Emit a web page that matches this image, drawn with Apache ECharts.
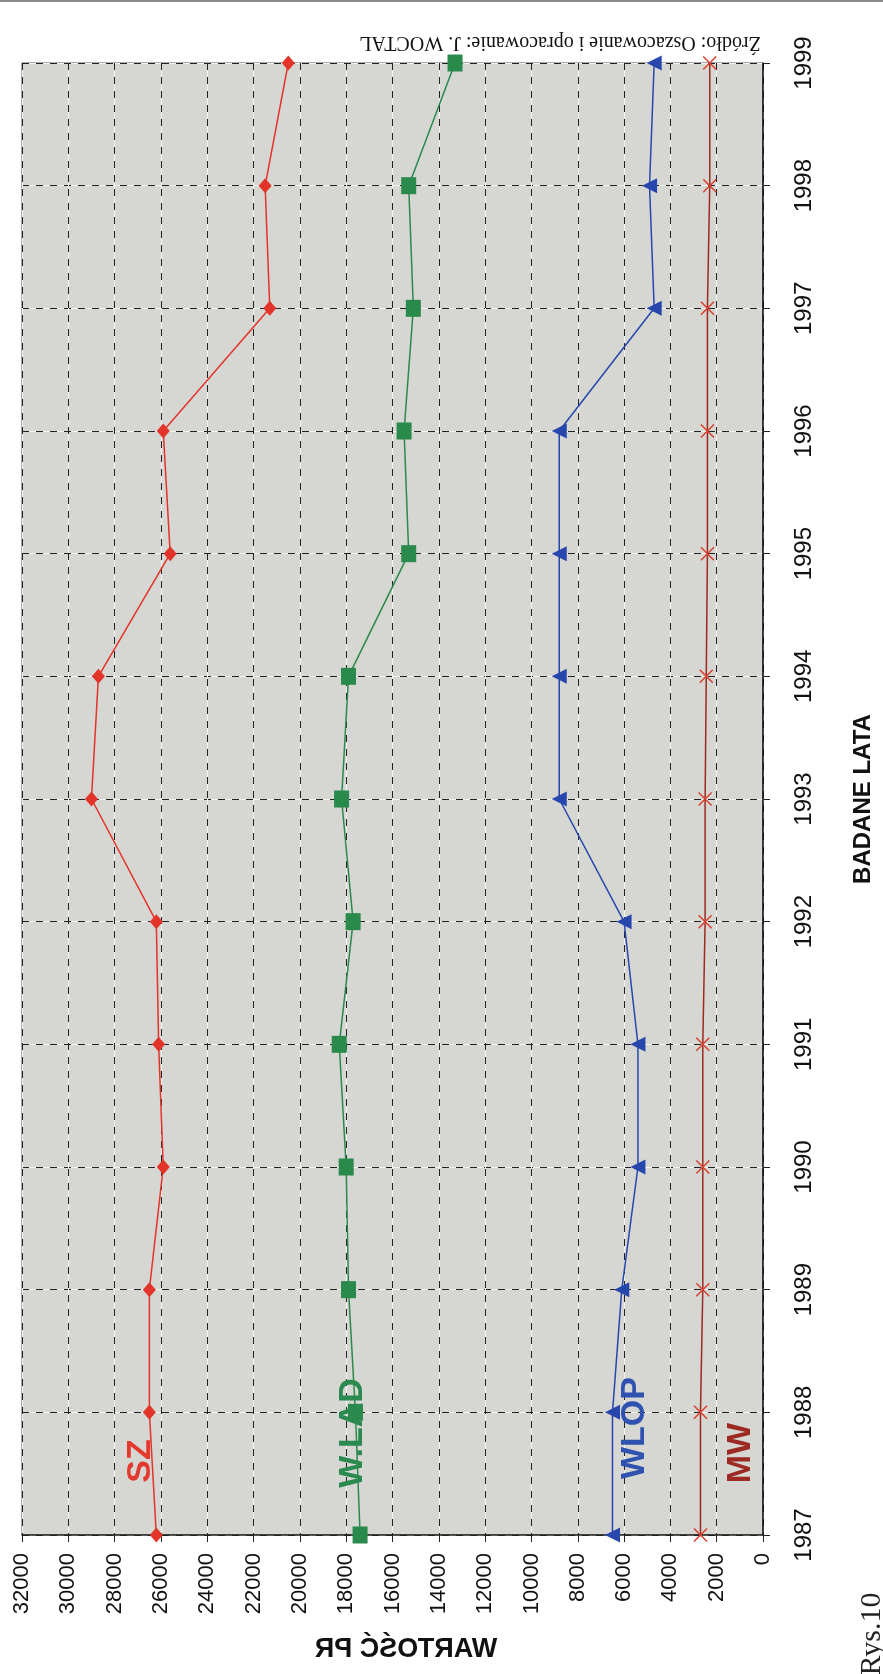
<!DOCTYPE html>
<html>
<head>
<meta charset="utf-8">
<script src="https://cdn.jsdelivr.net/npm/echarts@6/dist/echarts.min.js"></script>
<style>
  html, body { margin: 0; padding: 0; background: #ffffff; }
  #chart { width: 883px; height: 1674px; }
</style>
</head>
<body>
<div id="chart"></div>
<script>
// Years on the category axis (drawn vertically, 1987 at the bottom)
const years = ['1987', '1988', '1989', '1990', '1991', '1992', '1993', '1994', '1995', '1996', '1997', '1998', '1999'];

// Series values (WARTOŚĆ PR)
const sz    = [26200, 26500, 26500, 25900, 26100, 26200, 29000, 28700, 25600, 25900, 21300, 21500, 20500];
const wlad  = [17400, 17600, 17900, 18000, 18300, 17700, 18200, 17900, 15300, 15500, 15100, 15300, 13300];
const wlop  = [6500, 6500, 6100, 5400, 5400, 6000, 8800, 8800, 8800, 8800, 4700, 4900, 4700];
const mw    = [2700, 2700, 2600, 2600, 2600, 2500, 2500, 2450, 2400, 2400, 2400, 2300, 2300];

// Value axis range
const valueMin = 0;
const valueMax = 32000;
const valueStep = 2000;

const chart = echarts.init(document.getElementById('chart'), null, { renderer: 'canvas' });

const gridBox = { left: 22, right: 105, top: 63, bottom: 139 };

function lineSeries(name, data, color, symbol, size, extra) {
  return Object.assign({
    name: name,
    type: 'line',
    data: data,
    xAxisIndex: 0,
    yAxisIndex: 0,
    symbol: symbol,
    symbolSize: size,
    showAllSymbol: true,
    lineStyle: { color: color, width: 1.5 },
    itemStyle: { color: color },
    emphasis: { disabled: true },
    z: 5
  }, extra || {});
}

const seriesLabel = (text, x, y, color) => ({
  type: 'text',
  x: x, y: y,
  rotation: Math.PI / 2,
  z: 20,
  style: {
    text: text,
    fill: color,
    font: 'bold 34px "Liberation Sans", Arial, sans-serif',
    textAlign: 'center',
    textVerticalAlign: 'middle'
  }
});

const option = {
  animation: false,
  backgroundColor: '#ffffff',
  grid: Object.assign({
    show: true,
    backgroundColor: '#d6d6d2',
    borderColor: '#555555',
    borderWidth: 1
  }, gridBox),
  xAxis: [
    {
      type: 'value',
      min: valueMin,
      max: valueMax,
      interval: valueStep,
      inverse: true,
      position: 'bottom',
      axisLine: { show: true, onZero: false, lineStyle: { color: '#222', width: 1.5 } },
      axisTick: { show: true, length: 7, lineStyle: { color: '#222' } },
      axisLabel: {
        rotate: 90,
        margin: 18,
        fontSize: 22,
        color: '#111',
        fontFamily: '"Liberation Sans", Arial, sans-serif',
        formatter: v => String(v)
      },
      splitLine: { show: true, lineStyle: { color: '#222', width: 1, type: [7, 7] } }
    },
    {
      // white dashes filling the gaps of the vertical grid lines
      type: 'value',
      min: valueMin,
      max: valueMax,
      interval: valueStep,
      inverse: true,
      position: 'bottom',
      axisLine: { show: false },
      axisTick: { show: false },
      axisLabel: { show: false },
      splitLine: { show: true, lineStyle: { color: '#f4f4f2', width: 1, type: [7, 7], dashOffset: 7 } }
    }
  ],
  yAxis: [
    {
      type: 'category',
      data: years,
      boundaryGap: false,
      position: 'right',
      axisLine: { show: true, lineStyle: { color: '#111', width: 1.5 } },
      axisTick: { show: true, length: 7, alignWithLabel: true, lineStyle: { color: '#222' } },
      axisLabel: {
        rotate: 90,
        margin: 29,
        fontSize: 24,
        color: '#111',
        fontFamily: '"Liberation Sans", Arial, sans-serif'
      },
      splitLine: { show: true, lineStyle: { color: '#222', width: 1, type: [7, 7] } },
      name: 'BADANE LATA',
      nameLocation: 'middle',
      nameRotate: 90,
      nameGap: 88,
      nameTextStyle: {
        fontSize: 24,
        fontWeight: 'bold',
        color: '#111',
        fontFamily: '"Liberation Sans", Arial, sans-serif'
      }
    },
    {
      type: 'category',
      data: years,
      boundaryGap: false,
      position: 'right',
      axisLine: { show: false },
      axisTick: { show: false },
      axisLabel: { show: false },
      splitLine: { show: true, lineStyle: { color: '#f4f4f2', width: 1, type: [7, 7], dashOffset: 7 } }
    }
  ],
  series: [
    lineSeries('SZ', sz, '#e3342a', 'diamond', [13, 15]),
    lineSeries('W.LAD', wlad, '#2a8a4c', 'rect', [15, 17]),
    lineSeries('WLOP', wlop, '#2747ad', 'triangle', 15, { symbolRotate: 90 }),
    lineSeries('MW', mw, '#9b2a20', 'path://M0,0L12,12M12,0L0,12', 13, {
      itemStyle: { color: 'rgba(0,0,0,0)', borderColor: '#d8402f', borderWidth: 1.5 }
    })
  ].map(s => {
    s.data = s.data.map((v, i) => [v, years[i]]);
    return s;
  }),
  graphic: [
    // thin scan edge at the top of the sheet
    { type: 'rect', shape: { x: 0, y: 0, width: 883, height: 2 }, style: { fill: '#8c8c8c' }, z: 1 },
    {
      type: 'text',
      x: 560, y: 42,
      rotation: Math.PI,
      style: {
        text: 'Źródło: Oszacowanie i opracowanie: J. WOCTAL',
        fill: '#111',
        font: '20px "Liberation Serif", "Times New Roman", serif',
        textAlign: 'center',
        textVerticalAlign: 'middle'
      }
    },
    {
      type: 'text',
      x: 406, y: 1650,
      scaleX: -1,
      style: {
        text: 'WARTOŚĆ PR',
        fill: '#111',
        font: 'bold 27px "Liberation Sans", Arial, sans-serif',
        textAlign: 'center',
        textVerticalAlign: 'middle'
      }
    },
    {
      type: 'text',
      x: 872, y: 1634,
      rotation: Math.PI / 2,
      style: {
        text: 'Rys.10',
        fill: '#222',
        font: '30px "Liberation Serif", "Times New Roman", serif',
        textAlign: 'center',
        textVerticalAlign: 'middle'
      }
    },
    seriesLabel('SZ', 141, 1461, '#e23a2e'),
    seriesLabel('W.LAD', 353, 1433, '#2a8a4f'),
    seriesLabel('WLOP', 635, 1428, '#2f52b0'),
    seriesLabel('MW', 741, 1453, '#9c2a22')
  ]
};

chart.setOption(option);
</script>
</body>
</html>
